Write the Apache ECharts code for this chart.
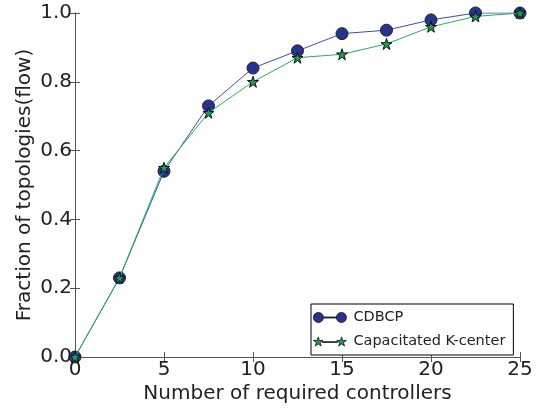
<!DOCTYPE html>
<html>
<head>
<meta charset="utf-8">
<script src="https://cdn.jsdelivr.net/npm/echarts@6/dist/echarts.min.js"></script>
<style>html,body{margin:0;padding:0;background:#fff}#c{width:547px;height:409px}</style>
</head>
<body>
<div id="c"></div>
<script>
const xValues = [0, 2.5, 5, 7.5, 10, 12.5, 15, 17.5, 20, 22.5, 25];
const cdbcp = [0, 0.23, 0.54, 0.73, 0.84, 0.89, 0.94, 0.95, 0.98, 1.0, 1.0];
const kcenter = [0, 0.23, 0.55, 0.71, 0.80, 0.87, 0.88, 0.91, 0.96, 0.99, 1.0];
const seriesNames = ['CDBCP', 'Capacitated K-center'];
const xTicks = [0, 5, 10, 15, 20, 25];
const yTicks = [0.0, 0.2, 0.4, 0.6, 0.8, 1.0];

const FONT = 'DejaVu Sans';
const star = 'path://M50 0 L61.17 34.63 L97.55 34.55 L68.07 55.87 L79.39 90.45 L50 69 L20.61 90.45 L31.93 55.87 L2.45 34.55 L38.83 34.63 Z';
function starAt(cx, s) {
  const pts = [[50,0],[61.17,34.63],[97.55,34.55],[68.07,55.87],[79.39,90.45],[50,69],[20.61,90.45],[31.93,55.87],[2.45,34.55],[38.83,34.63]];
  return pts.map((p, i) => (i ? 'L' : 'M') + (cx + p[0] * s).toFixed(2) + ' ' + (p[1] * s).toFixed(2)).join(' ') + ' Z';
}
const circLegend = 'path://M0 5 A5 5 0 1 1 10 5 A5 5 0 1 1 0 5 Z M10 4.5 L23 4.5 L23 5.5 L10 5.5 Z M23 5 A5 5 0 1 1 33 5 A5 5 0 1 1 23 5 Z';
const starLegend = 'path://' + starAt(0, 0.1) + ' M9 4.7 L24 4.7 L24 5.5 L9 5.5 Z ' + starAt(23, 0.1);

function pairs(ys) { return xValues.map((x, i) => [x, ys[i]]); }

const axisLine = {show: true, lineStyle: {color: '#555', width: 1}};
const tick = {show: true, inside: true, length: 5, lineStyle: {color: '#555', width: 1}};

const chart = echarts.init(document.getElementById('c'), null, {renderer: 'canvas'});
chart.setOption({
  animation: false,
  backgroundColor: '#fff',
  grid: {left: 75, right: 27, top: 13, bottom: 52, containLabel: false},
  xAxis: [{
    type: 'value', min: 0, max: 25, interval: 5, position: 'bottom',
    name: 'Number of required controllers', nameLocation: 'middle', nameGap: 27, nameMoveOverlap: false,
    nameTextStyle: {fontFamily: FONT, fontSize: 20, color: '#222'},
    axisLine: axisLine, axisTick: tick, splitLine: {show: false},
    axisLabel: {fontFamily: FONT, fontSize: 20, color: '#222', margin: 3,
      formatter: v => xTicks.includes(v) ? String(v) : ''}
  }, {
    type: 'value', min: 0, max: 25, interval: 5, position: 'top',
    axisLine: axisLine, axisTick: tick, splitLine: {show: false}, axisLabel: {show: false}
  }],
  yAxis: [{
    type: 'value', min: 0, max: 1, interval: 0.2, position: 'left',
    name: 'Fraction of topologies(flow)', nameLocation: 'middle', nameGap: 40, nameMoveOverlap: false,
    nameTextStyle: {fontFamily: FONT, fontSize: 20, color: '#222'},
    axisLine: axisLine, axisTick: tick, splitLine: {show: false},
    axisLabel: {fontFamily: FONT, fontSize: 20, color: '#222', margin: 3,
      formatter: v => { const t = yTicks.find(y => Math.abs(y - v) < 1e-9); return t === undefined ? '' : t.toFixed(1); }}
  }, {
    type: 'value', min: 0, max: 1, interval: 0.2, position: 'right',
    axisLine: axisLine, axisTick: tick, splitLine: {show: false}, axisLabel: {show: false}
  }],
  legend: {
    orient: 'vertical', left: 311, top: 304, width: 200,
    padding: [6, 8, 6, 2], itemGap: 9, itemWidth: 33, itemHeight: 10,
    backgroundColor: '#fff', borderColor: '#000', borderWidth: 1, borderRadius: 0,
    textStyle: {fontFamily: FONT, fontSize: 14.5, color: '#222', padding: [0, 0, 0, 2]},
    data: [
      {name: seriesNames[0], icon: circLegend, itemStyle: {color: '#26338f', borderColor: '#111', borderWidth: 0.8}},
      {name: seriesNames[1], icon: starLegend, itemStyle: {color: '#1c9e55', borderColor: '#111', borderWidth: 0.8}}
    ]
  },
  series: [{
    name: seriesNames[0], type: 'line', data: pairs(cdbcp),
    symbol: 'circle', symbolSize: 12, showAllSymbol: true,
    lineStyle: {color: '#3f4db0', width: 1},
    itemStyle: {color: '#26338f', borderColor: '#222', borderWidth: 1},
    z: 2
  }, {
    name: seriesNames[1], type: 'line', data: pairs(kcenter),
    symbol: star, symbolSize: 11, showAllSymbol: true,
    lineStyle: {color: '#21b065', width: 1},
    itemStyle: {color: '#1c9e55', borderColor: '#111', borderWidth: 1},
    z: 3
  }]
});
</script>
</body>
</html>
